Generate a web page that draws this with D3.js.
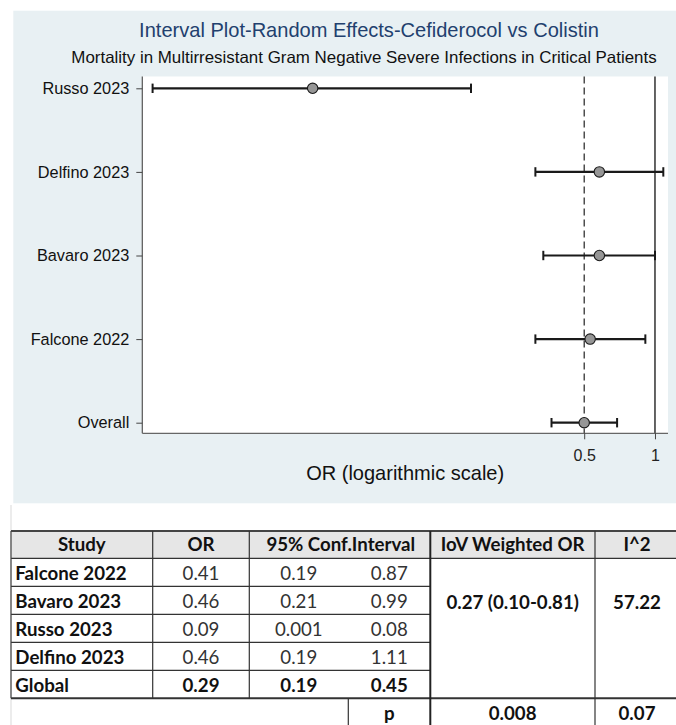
<!DOCTYPE html>
<html>
<head>
<meta charset="utf-8">
<script src="https://cdn.jsdelivr.net/npm/d3@7"></script>
<style>
  html, body { margin: 0; padding: 0; background: #ffffff; }
  svg { display: block; }
</style>
</head>
<body>
<div id="chart"></div>
<script>
// ---------------- data ----------------
const studies = ["Russo 2023", "Delfino 2023", "Bavaro 2023", "Falcone 2022", "Overall"];
const orEst   = [0.035, 0.58, 0.58, 0.53, 0.50];
const ciLow   = [0.0073, 0.31, 0.335, 0.31, 0.363];
const ciHigh  = [0.165, 1.085, 1.0, 0.91, 0.69];
const xTicks  = [0.5, 1];
const nullValue = 1;

const titleText = "Interval Plot-Random Effects-Cefiderocol vs Colistin";
const subtitleText = "Mortality in Multirresistant Gram Negative Severe Infections in Critical Patients";
const xTitleText = "OR (logarithmic scale)";

// table data
const tableHeader = ["Study", "OR", "95% Conf.Interval", "IoV Weighted OR", "I^2"];
const tableStudies = ["Falcone 2022", "Bavaro 2023", "Russo 2023", "Delfino 2023", "Global"];
const tableOR   = ["0.41", "0.46", "0.09", "0.46", "0.29"];
const tableLow  = ["0.19", "0.21", "0.001", "0.19", "0.19"];
const tableHigh = ["0.87", "0.99", "0.08", "1.11", "0.45"];
const pooledOR = "0.27 (0.10-0.81)";
const i2Value = "57.22";
const pLabel = "p";
const pValues = ["0.008", "0.07"];

// ---------------- layout ----------------
const W = 676, H = 725;
const svg = d3.select("#chart").append("svg").attr("width", W).attr("height", H);

const panel = { x: 13.3, y: 10.7, w: W - 13.3, h: 503.3 - 10.7 };
const plot = { left: 142.3, right: 668, top: 76.5, bottom: 433.3 };
const chartFont = "'Liberation Sans', Arial, sans-serif";

function fit(sel, target) {
  const w = sel.node().getComputedTextLength();
  const fs = parseFloat(sel.attr("font-size"));
  sel.attr("font-size", (fs * target / w).toFixed(2));
}

svg.append("rect").attr("x", panel.x).attr("y", panel.y)
  .attr("width", panel.w).attr("height", panel.h).attr("fill", "#e8f0f3");
svg.append("rect").attr("x", plot.left).attr("y", plot.top)
  .attr("width", plot.right - plot.left).attr("height", plot.bottom - plot.top).attr("fill", "#ffffff");

// titles
const t1 = svg.append("text").attr("x", 369).attr("y", 36.7).attr("text-anchor", "middle")
  .attr("font-family", chartFont).attr("font-size", 20).attr("fill", "#22406e").text(titleText);
fit(t1, 460);
const t2 = svg.append("text").attr("x", 364).attr("y", 63.3).attr("text-anchor", "middle")
  .attr("font-family", chartFont).attr("font-size", 16).attr("fill", "#111").text(subtitleText);
fit(t2, 585.5);

// scales
const x = d3.scaleLog().domain([0.0066, 1.136]).range([plot.left, plot.right]);
const y = d3.scalePoint().domain(studies).range([88.3, 422.7]);

// reference lines
svg.append("line").attr("x1", x(orEst[orEst.length - 1])).attr("x2", x(orEst[orEst.length - 1]))
  .attr("y1", plot.top).attr("y2", plot.bottom)
  .attr("stroke", "#222").attr("stroke-width", 1.2).attr("stroke-dasharray", "7,4");
svg.append("line").attr("x1", x(nullValue)).attr("x2", x(nullValue))
  .attr("y1", plot.top).attr("y2", plot.bottom)
  .attr("stroke", "#111").attr("stroke-width", 1.3);

// axes
const yAxis = svg.append("g").attr("transform", `translate(${plot.left},0)`)
  .call(d3.axisLeft(y).tickSize(6).tickPadding(7));
yAxis.select(".domain").attr("d", `M0,${plot.top}V${plot.bottom}`).attr("stroke", "#555").attr("stroke-width", 1.2);
yAxis.selectAll(".tick line").attr("stroke", "#444");
yAxis.selectAll(".tick text").attr("font-family", chartFont).attr("font-size", 16.3).attr("fill", "#111");

const xAxis = svg.append("g").attr("transform", `translate(0,${plot.bottom})`)
  .call(d3.axisBottom(x).tickValues(xTicks).tickFormat(d3.format("")).tickSize(6).tickPadding(10));
xAxis.select(".domain").attr("d", `M${plot.left},0H${plot.right}`).attr("stroke", "#666").attr("stroke-width", 1.2);
xAxis.selectAll(".tick line").attr("stroke", "#444");
xAxis.selectAll(".tick text").attr("font-family", chartFont).attr("font-size", 16).attr("fill", "#222");

const xt = svg.append("text").attr("x", (plot.left + plot.right) / 2).attr("y", 480)
  .attr("text-anchor", "middle").attr("font-family", chartFont).attr("font-size", 20)
  .attr("fill", "#111").text(xTitleText);
fit(xt, 198);

// interval marks
const rows = studies.map((s, i) => ({ s, est: orEst[i], lo: ciLow[i], hi: ciHigh[i] }));
const g = svg.append("g");
const capH = 4.7;
g.selectAll("line.ci").data(rows).join("line").attr("class", "ci")
  .attr("x1", d => x(d.lo)).attr("x2", d => x(d.hi))
  .attr("y1", d => y(d.s)).attr("y2", d => y(d.s))
  .attr("stroke", "#1a1a1a").attr("stroke-width", 2.2);
g.selectAll("line.capl").data(rows).join("line").attr("class", "capl")
  .attr("x1", d => x(d.lo)).attr("x2", d => x(d.lo))
  .attr("y1", d => y(d.s) - capH).attr("y2", d => y(d.s) + capH)
  .attr("stroke", "#1a1a1a").attr("stroke-width", 2);
g.selectAll("line.capr").data(rows).join("line").attr("class", "capr")
  .attr("x1", d => x(d.hi)).attr("x2", d => x(d.hi))
  .attr("y1", d => y(d.s) - capH).attr("y2", d => y(d.s) + capH)
  .attr("stroke", "#1a1a1a").attr("stroke-width", 2);
g.selectAll("circle").data(rows).join("circle")
  .attr("cx", d => x(d.est)).attr("cy", d => y(d.s)).attr("r", 5.2)
  .attr("fill", "#969696").attr("stroke", "#1a1a1a").attr("stroke-width", 1.1);

// ---------------- table ----------------
const tFont = "Lato, 'Open Sans', sans-serif";
const T = { left: 11, right: 676, top: 531, headBottom: 558.3, rowH: 28, bottom: 698.3, end: 725 };
const colX = { study: 11, or: 152.7, ci: 249.3, ciMid: 348.3, iov: 430.3, i2: 595 };
const tg = svg.append("g");

tg.append("rect").attr("x", T.left).attr("y", T.top).attr("width", T.right - T.left)
  .attr("height", T.headBottom - T.top).attr("fill", "#e6e6e6");

// measure font scale
const probe = tg.append("text").attr("font-family", tFont).attr("font-weight", "bold")
  .attr("font-size", 17).text(tableStudies[0]);
const fsT = 17 * 111.4 / probe.node().getComputedTextLength();
probe.remove();

function cell(txt, cx, baseY, anchor, bold, color) {
  tg.append("text").attr("x", cx).attr("y", baseY).attr("text-anchor", anchor)
    .attr("font-family", tFont).attr("font-size", fsT.toFixed(2))
    .attr("font-weight", bold ? "bold" : "normal").attr("fill", color || (bold ? "#111" : "#333"))
    .text(txt);
}
const headBase = T.top + 20;
cell(tableHeader[0], (colX.study + colX.or) / 2, headBase, "middle", true);
cell(tableHeader[1], (colX.or + colX.ci) / 2, headBase, "middle", true);
cell(tableHeader[2], (colX.ci + colX.iov) / 2 + 1, headBase, "middle", true);
cell(tableHeader[3], (colX.iov + colX.i2) / 2, headBase, "middle", true);
cell(tableHeader[4], 637, headBase, "middle", true);

tableStudies.forEach((s, i) => {
  const base = T.headBottom + i * T.rowH + 21.5;
  const bold = i === tableStudies.length - 1;
  cell(s, 15.3, base, "start", true);
  cell(tableOR[i], (colX.or + colX.ci) / 2, base, "middle", bold);
  cell(tableLow[i], (colX.ci + colX.ciMid) / 2, base, "middle", bold);
  cell(tableHigh[i], (colX.ciMid + colX.iov) / 2, base, "middle", bold);
});
const mergedBase = T.headBottom + 1 * T.rowH + 22.5;
cell(pooledOR, (colX.iov + colX.i2) / 2, mergedBase, "middle", true);
cell(i2Value, 637, mergedBase, "middle", true);
const pBase = T.bottom + 21.5;
cell(pLabel, (colX.ciMid + colX.iov) / 2, pBase, "middle", true);
cell(pValues[0], (colX.iov + colX.i2) / 2, pBase, "middle", true);
cell(pValues[1], 637, pBase, "middle", true);

// borders
function hline(y0, x1, x2, w, c) {
  tg.append("line").attr("x1", x1).attr("x2", x2).attr("y1", y0).attr("y2", y0)
    .attr("stroke", c || "#333").attr("stroke-width", w || 1);
}
function vline(x0, y1, y2, w, c) {
  tg.append("line").attr("x1", x0).attr("x2", x0).attr("y1", y1).attr("y2", y2)
    .attr("stroke", c || "#333").attr("stroke-width", w || 1);
}
vline(11, 505, T.end, 1, "#d9d9d9");
hline(T.top, T.left, T.right, 2, "#444");
hline(T.headBottom, T.left, T.right, 1.2, "#333");
for (let i = 1; i < tableStudies.length; i++) {
  hline(T.headBottom + i * T.rowH, T.left, colX.iov, 1.2, "#333");
}
hline(T.bottom, T.left, T.right, 2, "#333");
vline(colX.study, T.top, T.bottom, 1.2, "#444");
vline(colX.or, T.top, T.bottom, 1.2, "#333");
vline(colX.ci, T.top, T.bottom, 1.2, "#333");
vline(colX.iov, T.top, T.end, 2, "#222");
vline(colX.i2, T.top, T.end, 1.2, "#333");
vline(colX.ciMid, T.bottom, T.end, 1.2, "#333");
</script>
</body>
</html>
